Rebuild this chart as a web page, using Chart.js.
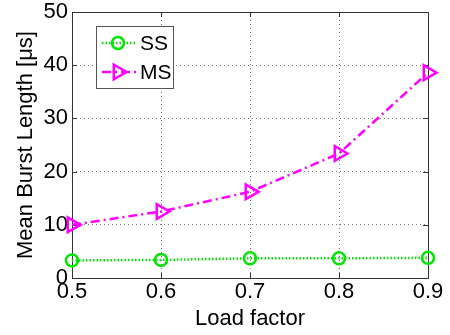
<!DOCTYPE html>
<html>
<head>
<meta charset="utf-8">
<script src="https://cdn.jsdelivr.net/npm/chart.js@4/dist/chart.umd.min.js"></script>
<style>
  html, body { margin: 0; padding: 0; background: #fff; }
  #wrap { width: 450px; height: 335px; position: relative; }
</style>
</head>
<body>
<div id="wrap"><canvas id="c" width="450" height="335"></canvas></div>
<script>
const loadFactors = ['0.5', '0.6', '0.7', '0.8', '0.9'];
const ssValues = [3.3, 3.4, 3.7, 3.7, 3.8];
const msValues = [10.0, 12.5, 16.2, 23.4, 38.6];
const yTicks = [0, 10, 20, 30, 40, 50];
const seriesNames = ['SS', 'MS'];

const FONT = 'Liberation Sans, Arial, sans-serif';

const framePlugin = {
  id: 'frame',
  beforeDatasetsDraw(chart) {
    const {ctx, chartArea: a, scales} = chart;
    ctx.save();
    ctx.strokeStyle = '#333';
    ctx.lineWidth = 1;
    ctx.strokeRect(Math.round(a.left) + 0.5, Math.round(a.top) + 0.5,
                   Math.round(a.right - a.left), Math.round(a.bottom - a.top));
    const t = 5;
    ctx.beginPath();
    scales.y.ticks.forEach((tk, i) => {
      const py = Math.round(scales.y.getPixelForTick(i)) + 0.5;
      ctx.moveTo(a.left, py); ctx.lineTo(a.left + t, py);
      ctx.moveTo(a.right, py); ctx.lineTo(a.right - t, py);
    });
    scales.x.ticks.forEach((tk, i) => {
      const px = Math.round(scales.x.getPixelForTick(i)) + 0.5;
      ctx.moveTo(px, a.bottom); ctx.lineTo(px, a.bottom - t);
      ctx.moveTo(px, a.top); ctx.lineTo(px, a.top + t);
    });
    ctx.stroke();
    ctx.restore();
  }
};

function drawMarker(ctx, ds, x, y) {
  ctx.save();
  ctx.strokeStyle = ds.pointBorderColor;
  ctx.lineWidth = ds.pointBorderWidth;
  ctx.setLineDash([]);
  const r = ds.pointRadius;
  ctx.beginPath();
  if (ds.pointStyle === 'circle') {
    ctx.arc(x, y, r, 0, Math.PI * 2);
  } else {
    const rot = (ds.pointRotation || 0) * Math.PI / 180;
    for (let k = 0; k < 3; k++) {
      const ang = rot + k * 2 * Math.PI / 3;
      const px = x + Math.sin(ang) * r, py = y - Math.cos(ang) * r;
      if (k === 0) ctx.moveTo(px, py); else ctx.lineTo(px, py);
    }
    ctx.closePath();
  }
  ctx.stroke();
  ctx.restore();
}

const legendPlugin = {
  id: 'inLegend',
  afterDraw(chart) {
    const {ctx} = chart;
    const x0 = 96, y0 = 26, w = 77, h = 62;
    ctx.save();
    ctx.fillStyle = '#fff';
    ctx.fillRect(x0, y0, w, h);
    ctx.strokeStyle = '#555';
    ctx.lineWidth = 1;
    ctx.strokeRect(x0 + 0.5, y0 + 0.5, w, h);
    chart.data.datasets.forEach((ds, i) => {
      const yy = y0 + 17 + i * 29;
      ctx.strokeStyle = ds.borderColor;
      ctx.lineWidth = ds.borderWidth;
      ctx.setLineDash(ds.borderDash);
      ctx.beginPath();
      ctx.moveTo(x0 + 6, yy); ctx.lineTo(x0 + 41, yy);
      ctx.stroke();
      drawMarker(ctx, ds, x0 + 22, yy);
      ctx.fillStyle = '#000';
      ctx.font = '21px ' + FONT;
      ctx.textBaseline = 'middle';
      ctx.textAlign = 'left';
      ctx.fillText(ds.label, x0 + 44, yy + 1);
    });
    ctx.restore();
  }
};

new Chart(document.getElementById('c'), {
  type: 'line',
  data: {
    labels: loadFactors,
    datasets: [
      {
        label: seriesNames[0],
        data: ssValues,
        borderColor: '#00e600',
        borderWidth: 2.5,
        borderDash: [1.5, 2],
        pointStyle: 'circle',
        pointRadius: 6,
        pointBorderWidth: 2.5,
        pointBorderColor: '#00e600',
        pointBackgroundColor: 'rgba(0,0,0,0)',
        fill: false,
        tension: 0,
        clip: false
      },
      {
        label: seriesNames[1],
        data: msValues,
        borderColor: '#ff00ff',
        borderWidth: 2.5,
        borderDash: [9, 4, 2, 4],
        pointStyle: 'triangle',
        pointRotation: 90,
        pointRadius: 8.5,
        pointBorderWidth: 2.5,
        pointBorderColor: '#ff00ff',
        pointBackgroundColor: 'rgba(0,0,0,0)',
        fill: false,
        tension: 0,
        clip: false
      }
    ]
  },
  options: {
    responsive: false,
    animation: false,
    devicePixelRatio: 1,
    layout: { padding: { left: 0, right: 22, top: 12, bottom: 0 } },
    plugins: { legend: { display: false }, tooltip: { enabled: false } },
    elements: { point: { hoverRadius: 6 } },
    scales: {
      x: {
        type: 'category',
        offset: false,
        afterFit(s) { s.height = 57; s.paddingLeft = 0; s.paddingRight = 0; },
        grid: { color: '#777', drawTicks: false, lineWidth: 1 },
        border: { display: false, dash: [1, 3] },
        ticks: {
          color: '#000',
          padding: 1,
          maxRotation: 0,
          autoSkip: false,
          font: { family: FONT, size: 22, lineHeight: 1.2 }
        },
        title: {
          display: true,
          text: 'Load factor',
          color: '#000',
          padding: { top: 0, bottom: 3 },
          font: { family: FONT, size: 22, lineHeight: 1.2 }
        }
      },
      y: {
        min: 0,
        max: 50,
        afterFit(s) { s.width = 72; s.paddingTop = 0; s.paddingBottom = 0; },
        afterBuildTicks(s) { s.ticks = yTicks.map(v => ({ value: v })); },
        grid: { color: '#777', drawTicks: false, lineWidth: 1 },
        border: { display: false, dash: [1, 3] },
        ticks: {
          color: '#000',
          padding: 4,
          font: { family: FONT, size: 22, lineHeight: 1 }
        },
        title: {
          display: true,
          text: 'Mean Burst Length [μs]',
          color: '#000',
          padding: { top: 13, bottom: 0 },
          font: { family: FONT, size: 22, lineHeight: 1.2 }
        }
      }
    }
  },
  plugins: [framePlugin, legendPlugin]
});
</script>
</body>
</html>
